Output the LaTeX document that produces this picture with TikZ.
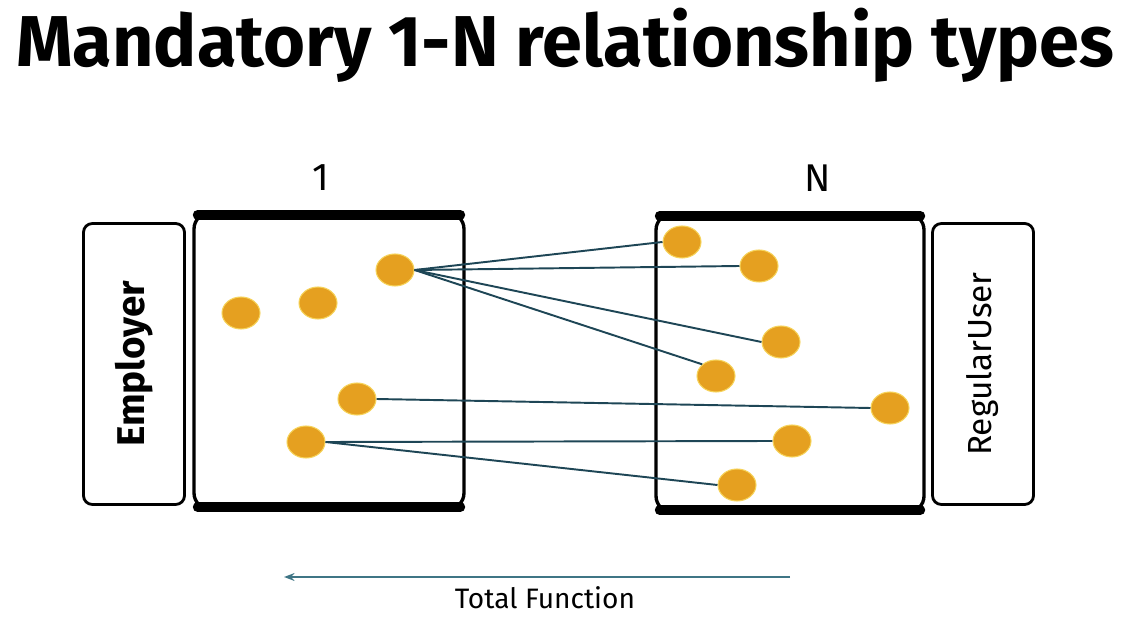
\documentclass[tikz,border=0pt]{standalone}
\usepackage{fontspec}
\setmainfont{Fira Sans}
\usepackage{xcolor}
\usetikzlibrary{shapes.geometric, arrows.meta}
\definecolor{dotorange}{HTML}{E5A020}
\definecolor{dotrim}{HTML}{F6D35A}
\definecolor{linkteal}{HTML}{1E4656}
\definecolor{arrowteal}{HTML}{3F7585}
\tikzstyle{entity}=[rectangle, draw, rounded corners=5pt, line width=1.6pt, minimum width=2.02cm, minimum height=5.62cm]
\tikzstyle{setbox}=[rectangle, draw, rounded corners=9pt, line width=1.9pt]
\tikzstyle{bar}=[line width=5.5pt, line cap=round]
\tikzstyle{elem}=[ellipse, fill=dotorange, draw=dotrim, line width=0.6pt, minimum width=0.76cm, minimum height=0.64cm, inner sep=0pt]
\tikzstyle{link}=[draw=linkteal, line width=1.1pt]

\begin{document}
\begin{tikzpicture}[x=0.02cm, y=-0.02cm]
\useasboundingbox (0,0) rectangle (1131,617);

% Title
\node (title) at (565,45) {\fontsize{41}{46}\selectfont\bfseries Mandatory 1-N relationship types};

% Entities
\node[entity] (employer) at (134,364) {};
\node[rotate=90, font=\fontsize{22}{26}\selectfont\bfseries] (employertext) at (employer.center) {Employer};
\node[entity] (regular) at (983,364) {};
\node[rotate=90, font=\fontsize{19}{24}\selectfont] (regulartext) at (regular.center) {RegularUser};

% Sets
\node[setbox, minimum width=5.4cm, minimum height=5.92cm] (one) at (329,361) {};
\node[setbox, minimum width=5.36cm, minimum height=5.96cm] (many) at (790,363) {};
\draw[bar] ([xshift=3pt, yshift=-2pt]one.north west) -- ([xshift=-3pt, yshift=-2pt]one.north east);
\draw[bar] ([xshift=3pt, yshift=2pt]one.south west) -- ([xshift=-3pt, yshift=2pt]one.south east);
\draw[bar] ([xshift=3pt, yshift=-2pt]many.north west) -- ([xshift=-3pt, yshift=-2pt]many.north east);
\draw[bar] ([xshift=3pt, yshift=2pt]many.south west) -- ([xshift=-3pt, yshift=2pt]many.south east);

% Cardinalities
\node[font=\fontsize{22}{26}\selectfont] (card1) at (321,178) {1};
\node[font=\fontsize{22}{26}\selectfont] (cardN) at (818,178) {N};

% Elements of the 1 side
\node[elem] (a1) at (241,313) {};
\node[elem] (a2) at (318,303) {};
\node[elem] (a3) at (395,270) {};
\node[elem] (a4) at (357,399) {};
\node[elem] (a5) at (306,442) {};

% Elements of the N side
\node[elem] (b1) at (682,242) {};
\node[elem] (b2) at (759,266) {};
\node[elem] (b3) at (781,342) {};
\node[elem] (b4) at (716,376) {};
\node[elem] (b5) at (890,408) {};
\node[elem] (b6) at (792,441) {};
\node[elem] (b7) at (737,485) {};

\draw[link] (a3.east) to (b1.west);
\draw[link] (a3.east) to (b2.west);
\draw[link] (a3.east) to (b3.west);
\draw[link] (a3.east) to (b4.north west);
\draw[link] (a4.east) to (b5.west);
\draw[link] (a5.east) to (b6.west);
\draw[link] (a5.east) to (b7.west);

% Total function
\coordinate (fstart) at (790,577);
\coordinate (fend) at (284,577);
\draw[-{Stealth[length=6pt]}, draw=arrowteal, line width=1.2pt] (fstart) to (fend);
\node[font=\fontsize{16}{19}\selectfont] (ftext) at (545,598) {Total Function};

\end{tikzpicture}
\end{document}
